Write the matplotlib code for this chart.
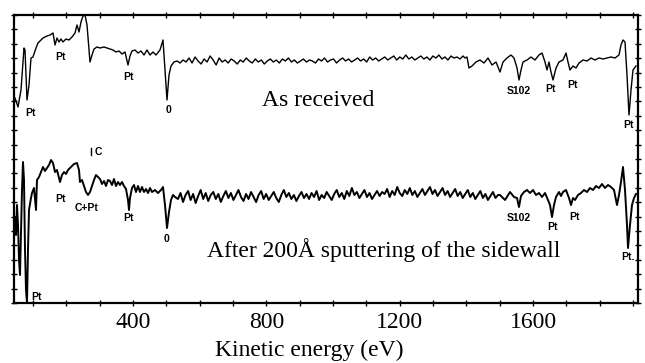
import numpy as np
import matplotlib
matplotlib.use('Agg')
import matplotlib.pyplot as plt

# kinetic energy (eV) / relative dN/dE (arbitrary units)

# "as received" spectrum
top_left_e = [46, 55, 64, 73, 76, 82, 88, 94, 100, 109, 115, 130, 142, 151, 160, 166,
              172, 178, 184, 190, 199, 208, 217, 226, 232, 238, 244, 250, 256, 262,
              271, 277, 283, 292, 301, 313, 322, 331, 340, 349, 358, 367, 376, 385,
              391, 397, 406, 415, 424, 433, 442, 451, 460, 469, 481, 490, 496, 502,
              508, 514, 523]
top_left_i = [205, 196, 213, 255, 253, 203, 218, 245, 246, 255, 260, 265, 267, 268, 270, 258,
              265, 261, 264, 261, 264, 263, 266, 270, 278, 271, 281, 287, 288, 278,
              241, 248, 254, 256, 255, 256, 255, 254, 253, 251, 252, 249, 251, 238,
              247, 252, 253, 250, 252, 248, 253, 248, 251, 248, 253, 263, 233, 203,
              228, 237, 241]
# flat part, 532..1390 eV
top_flat_i = [242, 240, 243, 241, 245, 240, 246, 242, 239, 244, 241, 247, 243, 238, 245, 241,
              243, 240, 244, 242, 239, 243, 241, 245, 242, 240, 244, 241, 243, 239, 242, 244,
              241, 243, 240, 244, 242, 245, 241, 243, 240, 242, 244, 241, 243, 242, 240, 244,
              242, 245, 241, 243, 244, 240, 243, 245, 242, 244, 241, 243, 245, 242, 244, 241,
              246, 243, 245, 242, 244, 246, 243, 245, 247, 243, 246, 244, 248, 244, 246, 243,
              245, 247, 244, 246, 243, 247, 245, 248, 244, 246, 243, 247, 245, 246, 244, 247]
top_right_e = [1396, 1402, 1408, 1417, 1429, 1441, 1453, 1465, 1477, 1489, 1501, 1510, 1522,
               1534, 1543, 1552, 1558, 1564, 1570, 1582, 1594, 1606, 1618, 1627, 1636, 1642,
               1648, 1654, 1660, 1669, 1678, 1690, 1699, 1705, 1711, 1720, 1729, 1738, 1750,
               1762, 1774, 1786, 1798, 1810, 1822, 1834, 1846, 1858, 1864, 1870, 1876, 1882,
               1888, 1894, 1900, 1909]
top_right_i = [245, 246, 235, 237, 241, 243, 240, 245, 238, 241, 231, 241, 245,
               248, 245, 235, 223, 233, 241, 243, 246, 243, 248, 250, 241, 233,
               241, 231, 223, 235, 241, 243, 250, 241, 233, 237, 235, 240, 243,
               242, 245, 243, 245, 244, 245, 246, 245, 248, 258, 263, 261, 228,
               188, 213, 233, 237]

# after 200 A sputtering
bot_left_e = [46, 49, 52, 55, 58, 61, 64, 67, 70, 73, 76, 79, 82, 85, 88, 94, 97, 103, 109,
              112, 118, 124, 130, 136, 142, 148, 154, 160, 166, 172, 181, 187, 193, 199,
              205, 214, 223, 232, 238, 241, 247, 253, 259, 265, 271, 277, 283, 289, 295,
              301, 307, 313, 319, 325, 331, 337, 343, 349, 355, 361, 367, 373, 379, 385,
              388, 391, 397, 403, 409, 415, 421, 427, 433, 439, 445, 451, 457, 466, 475,
              484, 490, 496, 502, 508, 514, 520, 526]
bot_left_i = [86, 68, 98, 78, 43, 28, 73, 113, 141, 123, 53, 13, 0, 53, 93, 105, 110, 115, 93,
              123, 126, 131, 136, 132, 135, 138, 143, 140, 131, 133, 121, 128, 131, 129,
              133, 136, 139, 140, 133, 121, 123, 117, 111, 108, 111, 117, 123, 128, 126,
              124, 119, 122, 117, 123, 122, 118, 124, 117, 121, 118, 121, 117, 114, 103,
              93, 105, 115, 118, 111, 117, 111, 116, 111, 114, 110, 115, 111, 113, 110,
              113, 116, 98, 75, 91, 103, 108, 106]
# flat part, 535..1495 eV
bot_flat_i = [104, 110, 101, 108, 112, 103, 109, 100, 107, 113, 104, 110, 102, 108, 111, 104,
              109, 101, 107, 112, 105, 110, 103, 108, 113, 106, 102, 109, 104, 111, 106, 101,
              108, 112, 104, 109, 103, 107, 111, 105, 101, 108, 113, 106, 110, 104, 108, 102,
              107, 111, 105, 109, 104, 110, 106, 112, 103, 108, 105, 111, 107, 103, 109, 113,
              106, 110, 104, 112, 107, 115, 108, 111, 105, 109, 113, 106, 110, 104, 108, 112,
              107, 111, 109, 114, 106, 112, 108, 116, 110, 107, 113, 109, 115, 108, 112, 106,
              110, 114, 108, 112, 116, 109, 113, 107, 111, 115, 108, 112, 106, 110, 114, 107,
              111, 105, 109, 113, 106, 110, 104, 108, 112, 105, 109, 103, 107, 111, 105, 108]
bot_right_e = [1501, 1516, 1531, 1543, 1552, 1558, 1564, 1573, 1582, 1591, 1600, 1609, 1618,
               1627, 1636, 1645, 1651, 1657, 1663, 1669, 1678, 1684, 1690, 1699, 1708, 1714,
               1720, 1726, 1735, 1744, 1753, 1762, 1771, 1780, 1789, 1798, 1807, 1816, 1825,
               1834, 1843, 1849, 1852, 1858, 1864, 1870, 1876, 1882, 1885, 1891, 1897, 1903,
               1909]
bot_right_i = [108, 103, 111, 106, 105, 96, 107, 111, 113, 110, 113, 108, 110,
               106, 110, 103, 98, 86, 98, 106, 111, 107, 111, 113, 105, 98,
               105, 103, 108, 110, 113, 111, 115, 113, 117, 115, 119, 115, 118,
               116, 113, 103, 98, 108, 121, 136, 113, 78, 55, 78, 98, 105,
               109]

# peak labels: (text, energy, intensity)
top_labels = [('Pt', 91, 190), ('Pt', 181, 246), ('Pt', 388, 226), ('0', 505, 193),
              ('S102', 1558, 212), ('Pt', 1651, 214), ('Pt', 1720, 218), ('Pt', 1888, 178)]
bot_labels = [('Pt', 112, 6), ('Pt', 181, 104), ('C+Pt', 262, 95), ('Pt', 388, 85),
              ('0', 502, 64), ('C', 295, 151), ('S102', 1558, 85), ('Pt', 1657, 76),
              ('Pt', 1726, 86), ('Pt.', 1885, 46)]

serif = ['Liberation Serif', 'DejaVu Serif']


def main():
  fig = plt.figure(figsize=(6.45, 3.63), dpi=100)
  ax = fig.add_axes([14/645, 1 - 303/363, 624/645, 288/363])

  top_e = top_left_e + list(np.linspace(532, 1390, len(top_flat_i))) + top_right_e
  top_i = top_left_i + top_flat_i + top_right_i
  bot_e = bot_left_e + list(np.linspace(535, 1495, len(bot_flat_i))) + bot_right_e
  bot_i = bot_left_i + bot_flat_i + bot_right_i

  ax.plot(top_e, top_i, color='k', lw=1.0)
  ax.plot(bot_e, bot_i, color='k', lw=1.4)

  for t, e, v in top_labels + bot_labels:
    ax.text(e, v, t, fontsize=7.5, fontweight='bold', ha='center', va='center',
            family='Liberation Sans')
  # little marker next to the C label
  ax.plot([274, 274], [148, 155], color='k', lw=1.0)

  ax.text(955, 203, 'As received', fontsize=17, family=serif, ha='center', va='center')
  ax.text(1153, 53, 'After 200Å sputtering of the sidewall', fontsize=17, family=serif,
          ha='center', va='center')

  ax.set_xlim(43, 1915)
  ax.set_ylim(0, 288)
  ax.set_xticks([400, 800, 1200, 1600])
  ax.set_xticks(np.arange(100, 1901, 100), minor=True)
  ax.set_yticks(np.arange(0, 289, 14.4))
  ax.set_yticklabels([])
  ax.tick_params(axis='x', which='both', direction='inout', length=5, width=1,
                 top=True, labelsize=17, pad=4)
  ax.tick_params(axis='y', which='both', direction='inout', length=5, width=1,
                 right=True)
  for lab in ax.get_xticklabels():
    lab.set_family(serif)
  for s in ax.spines.values():
    s.set_linewidth(1.6)

  fig.text(309/645, 1 - 350/363, 'Kinetic energy (eV)', fontsize=17, family=serif,
           ha='center', va='center')
  fig.savefig('out.png', dpi=100)


if __name__ == '__main__':
  main()
